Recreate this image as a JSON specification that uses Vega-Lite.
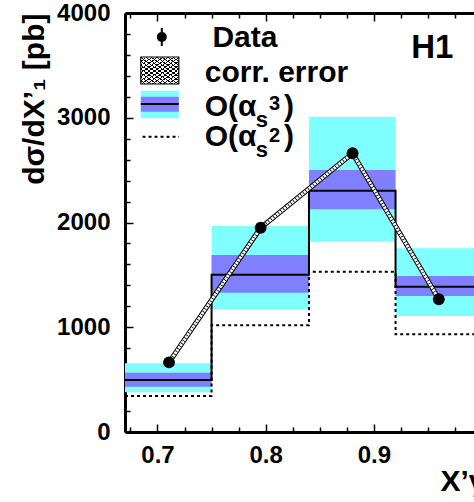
{
  "$schema": "https://vega.github.io/schema/vega-lite/v6.json",
  "width": 349,
  "height": 419,
  "autosize": "none",
  "padding": {"left": 125, "top": 13, "right": 0, "bottom": 70},
  "background": "white",
  "config": {"view": {"stroke": null}},
  "data": {"values": [{}]},
  "datasets": {
    "bins": [
      {"lo": 0.67, "hi": 0.75, "cyan_lo": 379, "cyan_hi": 656, "blue_lo": 432, "blue_hi": 566},
      {"lo": 0.75, "hi": 0.84, "cyan_lo": 1171, "cyan_hi": 1967, "blue_lo": 1330, "blue_hi": 1690},
      {"lo": 0.84, "hi": 0.92, "cyan_lo": 1817, "cyan_hi": 3010, "blue_lo": 2126, "blue_hi": 2501},
      {"lo": 0.92, "hi": 1.0, "cyan_lo": 1107, "cyan_hi": 1754, "blue_lo": 1298, "blue_hi": 1489}
    ],
    "steps": [
      {"edge": 0.67, "nlo": 496, "lo": 344},
      {"edge": 0.75, "nlo": 1502, "lo": 1020},
      {"edge": 0.84, "nlo": 2304, "lo": 1530},
      {"edge": 0.92, "nlo": 1387, "lo": 933},
      {"edge": 1.0, "nlo": 1387, "lo": 933}
    ],
    "points": [
      {"x": 0.7107, "y": 665},
      {"x": 0.7954, "y": 1950},
      {"x": 0.8803, "y": 2661},
      {"x": 0.96, "y": 1267}
    ]
  },
  "layer": [
    {
      "data": {"name": "bins"},
      "mark": {"type": "rect", "color": "#80ffff", "clip": true},
      "encoding": {
        "x": {"field": "lo", "type": "quantitative", "scale": {"domain": [0.67, 0.9925], "nice": false, "zero": false},
          "axis": {"orient": "bottom", "values": [0.7, 0.8, 0.9], "format": ".1f", "tickSize": -8, "tickWidth": 1.5, "tickColor": "black",
            "domainColor": "black", "domainWidth": 3, "grid": false, "labelFlush": false,
            "labelFont": "Liberation Sans", "labelFontWeight": "bold", "labelFontSize": 24, "labelColor": "black", "labelPadding": 19,
            "title": "X’γ", "titleFont": "Liberation Sans", "titleFontWeight": "bold", "titleFontSize": 30, "titleColor": "black",
            "titleX": 315, "titleY": 58, "titleAlign": "left", "titleBaseline": "alphabetic"}},
        "x2": {"field": "hi"},
        "y": {"field": "cyan_lo", "type": "quantitative", "scale": {"domain": [0, 4000], "nice": false},
          "axis": {"orient": "left", "values": [0, 1000, 2000, 3000, 4000], "format": "d", "tickSize": -8, "tickWidth": 1.5, "tickColor": "black",
            "domainColor": "black", "domainWidth": 3, "grid": false,
            "labelFont": "Liberation Sans", "labelFontWeight": "bold", "labelFontSize": 24, "labelColor": "black", "labelPadding": 23,
            "title": "dσ/dX’₁ [pb]", "titleFont": "Liberation Sans", "titleFontWeight": "bold", "titleFontSize": 30, "titleColor": "black",
            "titleX": -82, "titleY": 0, "titleAlign": "right", "titleBaseline": "alphabetic", "titleAngle": -90}},
        "y2": {"field": "cyan_hi"}
      }
    },
    {
      "data": {"name": "bins"},
      "mark": {"type": "rect", "color": "#8080ff", "clip": true},
      "encoding": {
        "x": {"field": "lo", "type": "quantitative",
          "axis": {"orient": "bottom", "values": [0.675, 0.725, 0.75, 0.775, 0.825, 0.85, 0.875, 0.925, 0.95, 0.975], "tickSize": -5, "tickWidth": 1.5, "tickColor": "black",
            "labels": false, "domain": false, "grid": false, "title": null}},
        "x2": {"field": "hi"},
        "y": {"field": "blue_lo", "type": "quantitative",
          "axis": {"orient": "left", "values": [200, 400, 600, 800, 1200, 1400, 1600, 1800, 2200, 2400, 2600, 2800, 3200, 3400, 3600, 3800], "tickSize": -5, "tickWidth": 1.5, "tickColor": "black",
            "labels": false, "domain": false, "grid": false, "title": null}},
        "y2": {"field": "blue_hi"}
      }
    },
    {
      "data": {"name": "steps"},
      "mark": {"type": "line", "interpolate": "step-after", "color": "black", "strokeWidth": 2, "strokeDash": [3, 3], "clip": true},
      "encoding": {
        "x": {"field": "edge", "type": "quantitative",
          "axis": {"orient": "top", "values": [0.7, 0.8, 0.9], "tickSize": -8, "tickWidth": 1.5, "tickColor": "black",
            "labels": false, "domainColor": "black", "domainWidth": 3, "grid": false, "title": null}},
        "y": {"field": "lo", "type": "quantitative", "axis": null}
      }
    },
    {
      "data": {"name": "steps"},
      "mark": {"type": "line", "interpolate": "step-after", "color": "black", "strokeWidth": 2, "clip": true},
      "encoding": {
        "x": {"field": "edge", "type": "quantitative",
          "axis": {"orient": "top", "values": [0.675, 0.725, 0.75, 0.775, 0.825, 0.85, 0.875, 0.925, 0.95, 0.975], "tickSize": -5, "tickWidth": 1.5, "tickColor": "black",
            "labels": false, "domain": false, "grid": false, "title": null}},
        "y": {"field": "nlo", "type": "quantitative", "axis": null}
      }
    },
    {
      "data": {"name": "points"},
      "mark": {"type": "line", "color": "black", "strokeWidth": 5},
      "encoding": {"x": {"field": "x", "type": "quantitative", "axis": null}, "y": {"field": "y", "type": "quantitative", "axis": null}}
    },
    {
      "data": {"name": "points"},
      "mark": {"type": "line", "color": "white", "strokeWidth": 3},
      "encoding": {"x": {"field": "x", "type": "quantitative", "axis": null}, "y": {"field": "y", "type": "quantitative", "axis": null}}
    },
    {
      "data": {"name": "points"},
      "mark": {"type": "line", "color": "black", "strokeWidth": 3, "strokeDash": [0.8, 2.4]},
      "encoding": {"x": {"field": "x", "type": "quantitative", "axis": null}, "y": {"field": "y", "type": "quantitative", "axis": null}}
    },
    {
      "data": {"name": "points"},
      "mark": {"type": "point", "shape": "circle", "filled": true, "size": 140, "color": "black", "opacity": 1},
      "encoding": {"x": {"field": "x", "type": "quantitative", "axis": null}, "y": {"field": "y", "type": "quantitative", "axis": null}}
    },
    {
      "mark": {"type": "rule", "color": "black", "strokeWidth": 2},
      "encoding": {"x": {"datum": 0.704, "axis": null}, "y": {"datum": 3685, "axis": null}, "y2": {"datum": 3857}}
    },
    {
      "mark": {"type": "point", "shape": "circle", "filled": true, "size": 100, "color": "black", "opacity": 1},
      "encoding": {"x": {"datum": 0.704, "axis": null}, "y": {"datum": 3771, "axis": null}}
    },
    {
      "mark": {"type": "text", "font": "Liberation Sans", "fontWeight": "bold", "fontSize": 30, "align": "left", "baseline": "alphabetic", "color": "black"},
      "encoding": {"x": {"datum": 0.7508, "axis": null}, "y": {"datum": 3678, "axis": null}, "text": {"value": "Data"}}
    },
    {
      "mark": {"type": "rect", "fill": "white"},
      "encoding": {"x": {"datum": 0.6846, "axis": null}, "x2": {"datum": 0.7197}, "y": {"datum": 3322, "axis": null}, "y2": {"datum": 3580}}
    },
    {
      "mark": {"type": "rect", "fill": {"gradient": "linear", "x1": 0, "y1": 0, "x2": 1, "y2": 1, "stops": [
        {"offset": 0, "color": "#000"}, {"offset": 0.018, "color": "#000"}, {"offset": 0.018, "color": "rgba(0,0,0,0)"}, {"offset": 0.0714, "color": "rgba(0,0,0,0)"},
        {"offset": 0.0714, "color": "#000"}, {"offset": 0.0894, "color": "#000"}, {"offset": 0.0894, "color": "rgba(0,0,0,0)"}, {"offset": 0.1429, "color": "rgba(0,0,0,0)"},
        {"offset": 0.1429, "color": "#000"}, {"offset": 0.1609, "color": "#000"}, {"offset": 0.1609, "color": "rgba(0,0,0,0)"}, {"offset": 0.2143, "color": "rgba(0,0,0,0)"},
        {"offset": 0.2143, "color": "#000"}, {"offset": 0.2323, "color": "#000"}, {"offset": 0.2323, "color": "rgba(0,0,0,0)"}, {"offset": 0.2857, "color": "rgba(0,0,0,0)"},
        {"offset": 0.2857, "color": "#000"}, {"offset": 0.3037, "color": "#000"}, {"offset": 0.3037, "color": "rgba(0,0,0,0)"}, {"offset": 0.3571, "color": "rgba(0,0,0,0)"},
        {"offset": 0.3571, "color": "#000"}, {"offset": 0.3751, "color": "#000"}, {"offset": 0.3751, "color": "rgba(0,0,0,0)"}, {"offset": 0.4286, "color": "rgba(0,0,0,0)"},
        {"offset": 0.4286, "color": "#000"}, {"offset": 0.4466, "color": "#000"}, {"offset": 0.4466, "color": "rgba(0,0,0,0)"}, {"offset": 0.5, "color": "rgba(0,0,0,0)"},
        {"offset": 0.5, "color": "#000"}, {"offset": 0.518, "color": "#000"}, {"offset": 0.518, "color": "rgba(0,0,0,0)"}, {"offset": 0.5714, "color": "rgba(0,0,0,0)"},
        {"offset": 0.5714, "color": "#000"}, {"offset": 0.5894, "color": "#000"}, {"offset": 0.5894, "color": "rgba(0,0,0,0)"}, {"offset": 0.6429, "color": "rgba(0,0,0,0)"},
        {"offset": 0.6429, "color": "#000"}, {"offset": 0.6609, "color": "#000"}, {"offset": 0.6609, "color": "rgba(0,0,0,0)"}, {"offset": 0.7143, "color": "rgba(0,0,0,0)"},
        {"offset": 0.7143, "color": "#000"}, {"offset": 0.7323, "color": "#000"}, {"offset": 0.7323, "color": "rgba(0,0,0,0)"}, {"offset": 0.7857, "color": "rgba(0,0,0,0)"},
        {"offset": 0.7857, "color": "#000"}, {"offset": 0.8037, "color": "#000"}, {"offset": 0.8037, "color": "rgba(0,0,0,0)"}, {"offset": 0.8571, "color": "rgba(0,0,0,0)"},
        {"offset": 0.8571, "color": "#000"}, {"offset": 0.8751, "color": "#000"}, {"offset": 0.8751, "color": "rgba(0,0,0,0)"}, {"offset": 0.9286, "color": "rgba(0,0,0,0)"},
        {"offset": 0.9286, "color": "#000"}, {"offset": 0.9466, "color": "#000"}, {"offset": 0.9466, "color": "rgba(0,0,0,0)"}, {"offset": 1, "color": "rgba(0,0,0,0)"}
      ]}},
      "encoding": {"x": {"datum": 0.6846, "axis": null}, "x2": {"datum": 0.7197}, "y": {"datum": 3322, "axis": null}, "y2": {"datum": 3580}}
    },
    {
      "mark": {"type": "rect", "fill": {"gradient": "linear", "x1": 1, "y1": 0, "x2": 0, "y2": 1, "stops": [
        {"offset": 0, "color": "#000"}, {"offset": 0.018, "color": "#000"}, {"offset": 0.018, "color": "rgba(0,0,0,0)"}, {"offset": 0.0714, "color": "rgba(0,0,0,0)"},
        {"offset": 0.0714, "color": "#000"}, {"offset": 0.0894, "color": "#000"}, {"offset": 0.0894, "color": "rgba(0,0,0,0)"}, {"offset": 0.1429, "color": "rgba(0,0,0,0)"},
        {"offset": 0.1429, "color": "#000"}, {"offset": 0.1609, "color": "#000"}, {"offset": 0.1609, "color": "rgba(0,0,0,0)"}, {"offset": 0.2143, "color": "rgba(0,0,0,0)"},
        {"offset": 0.2143, "color": "#000"}, {"offset": 0.2323, "color": "#000"}, {"offset": 0.2323, "color": "rgba(0,0,0,0)"}, {"offset": 0.2857, "color": "rgba(0,0,0,0)"},
        {"offset": 0.2857, "color": "#000"}, {"offset": 0.3037, "color": "#000"}, {"offset": 0.3037, "color": "rgba(0,0,0,0)"}, {"offset": 0.3571, "color": "rgba(0,0,0,0)"},
        {"offset": 0.3571, "color": "#000"}, {"offset": 0.3751, "color": "#000"}, {"offset": 0.3751, "color": "rgba(0,0,0,0)"}, {"offset": 0.4286, "color": "rgba(0,0,0,0)"},
        {"offset": 0.4286, "color": "#000"}, {"offset": 0.4466, "color": "#000"}, {"offset": 0.4466, "color": "rgba(0,0,0,0)"}, {"offset": 0.5, "color": "rgba(0,0,0,0)"},
        {"offset": 0.5, "color": "#000"}, {"offset": 0.518, "color": "#000"}, {"offset": 0.518, "color": "rgba(0,0,0,0)"}, {"offset": 0.5714, "color": "rgba(0,0,0,0)"},
        {"offset": 0.5714, "color": "#000"}, {"offset": 0.5894, "color": "#000"}, {"offset": 0.5894, "color": "rgba(0,0,0,0)"}, {"offset": 0.6429, "color": "rgba(0,0,0,0)"},
        {"offset": 0.6429, "color": "#000"}, {"offset": 0.6609, "color": "#000"}, {"offset": 0.6609, "color": "rgba(0,0,0,0)"}, {"offset": 0.7143, "color": "rgba(0,0,0,0)"},
        {"offset": 0.7143, "color": "#000"}, {"offset": 0.7323, "color": "#000"}, {"offset": 0.7323, "color": "rgba(0,0,0,0)"}, {"offset": 0.7857, "color": "rgba(0,0,0,0)"},
        {"offset": 0.7857, "color": "#000"}, {"offset": 0.8037, "color": "#000"}, {"offset": 0.8037, "color": "rgba(0,0,0,0)"}, {"offset": 0.8571, "color": "rgba(0,0,0,0)"},
        {"offset": 0.8571, "color": "#000"}, {"offset": 0.8751, "color": "#000"}, {"offset": 0.8751, "color": "rgba(0,0,0,0)"}, {"offset": 0.9286, "color": "rgba(0,0,0,0)"},
        {"offset": 0.9286, "color": "#000"}, {"offset": 0.9466, "color": "#000"}, {"offset": 0.9466, "color": "rgba(0,0,0,0)"}, {"offset": 1, "color": "rgba(0,0,0,0)"}
      ]}},
      "encoding": {"x": {"datum": 0.6846, "axis": null}, "x2": {"datum": 0.7197}, "y": {"datum": 3322, "axis": null}, "y2": {"datum": 3580}}
    },
    {
      "mark": {"type": "rect", "fill": null, "stroke": "black", "strokeWidth": 1.2},
      "encoding": {"x": {"datum": 0.6846, "axis": null}, "x2": {"datum": 0.7197}, "y": {"datum": 3322, "axis": null}, "y2": {"datum": 3580}}
    },
    {
      "mark": {"type": "text", "font": "Liberation Sans", "fontWeight": "bold", "fontSize": 30, "align": "left", "baseline": "alphabetic", "color": "black"},
      "encoding": {"x": {"datum": 0.7437, "axis": null}, "y": {"datum": 3344, "axis": null}, "text": {"value": "corr. error"}}
    },
    {
      "mark": {"type": "rect", "fill": "#80ffff"},
      "encoding": {"x": {"datum": 0.6846, "axis": null}, "x2": {"datum": 0.7197}, "y": {"datum": 2995, "axis": null}, "y2": {"datum": 3258}}
    },
    {
      "mark": {"type": "rect", "fill": "#8080ff"},
      "encoding": {"x": {"datum": 0.6846, "axis": null}, "x2": {"datum": 0.7197}, "y": {"datum": 3058, "axis": null}, "y2": {"datum": 3201}}
    },
    {
      "mark": {"type": "rule", "color": "black", "strokeWidth": 2},
      "encoding": {"x": {"datum": 0.6846, "axis": null}, "x2": {"datum": 0.7197}, "y": {"datum": 3131, "axis": null}}
    },
    {
      "mark": {"type": "rule", "color": "black", "strokeWidth": 2, "strokeDash": [3, 3]},
      "encoding": {"x": {"datum": 0.6862, "axis": null}, "x2": {"datum": 0.7199}, "y": {"datum": 2819, "axis": null}}
    },
    {
      "mark": {"type": "text", "font": "Liberation Sans", "fontWeight": "bold", "fontSize": 30, "align": "left", "baseline": "alphabetic", "color": "black"},
      "encoding": {"x": {"datum": 0.7437, "axis": null}, "y": {"datum": 3017, "axis": null}, "text": {"value": "O(α"}}
    },
    {
      "mark": {"type": "text", "font": "Liberation Sans", "fontWeight": "bold", "fontSize": 22, "align": "left", "baseline": "alphabetic", "color": "black"},
      "encoding": {"x": {"datum": 0.7908, "axis": null}, "y": {"datum": 2915, "axis": null}, "text": {"value": "s"}}
    },
    {
      "mark": {"type": "text", "font": "Liberation Sans", "fontWeight": "bold", "fontSize": 20, "align": "left", "baseline": "alphabetic", "color": "black"},
      "encoding": {"x": {"datum": 0.8031, "axis": null}, "y": {"datum": 3074, "axis": null}, "text": {"value": "3"}}
    },
    {
      "mark": {"type": "text", "font": "Liberation Sans", "fontWeight": "bold", "fontSize": 30, "align": "left", "baseline": "alphabetic", "color": "black"},
      "encoding": {"x": {"datum": 0.8169, "axis": null}, "y": {"datum": 3017, "axis": null}, "text": {"value": ")"}}
    },
    {
      "mark": {"type": "text", "font": "Liberation Sans", "fontWeight": "bold", "fontSize": 30, "align": "left", "baseline": "alphabetic", "color": "black"},
      "encoding": {"x": {"datum": 0.7437, "axis": null}, "y": {"datum": 2730, "axis": null}, "text": {"value": "O(α"}}
    },
    {
      "mark": {"type": "text", "font": "Liberation Sans", "fontWeight": "bold", "fontSize": 22, "align": "left", "baseline": "alphabetic", "color": "black"},
      "encoding": {"x": {"datum": 0.7908, "axis": null}, "y": {"datum": 2628, "axis": null}, "text": {"value": "s"}}
    },
    {
      "mark": {"type": "text", "font": "Liberation Sans", "fontWeight": "bold", "fontSize": 20, "align": "left", "baseline": "alphabetic", "color": "black"},
      "encoding": {"x": {"datum": 0.8031, "axis": null}, "y": {"datum": 2771, "axis": null}, "text": {"value": "2"}}
    },
    {
      "mark": {"type": "text", "font": "Liberation Sans", "fontWeight": "bold", "fontSize": 30, "align": "left", "baseline": "alphabetic", "color": "black"},
      "encoding": {"x": {"datum": 0.8169, "axis": null}, "y": {"datum": 2730, "axis": null}, "text": {"value": ")"}}
    },
    {
      "mark": {"type": "text", "font": "Liberation Sans", "fontWeight": "bold", "fontSize": 33, "align": "center", "baseline": "alphabetic", "color": "black"},
      "encoding": {"x": {"datum": 0.9539, "axis": null}, "y": {"datum": 3567, "axis": null}, "text": {"value": "H1"}}
    }
  ],
  "resolve": {"axis": {"x": "independent", "y": "independent"}}
}
